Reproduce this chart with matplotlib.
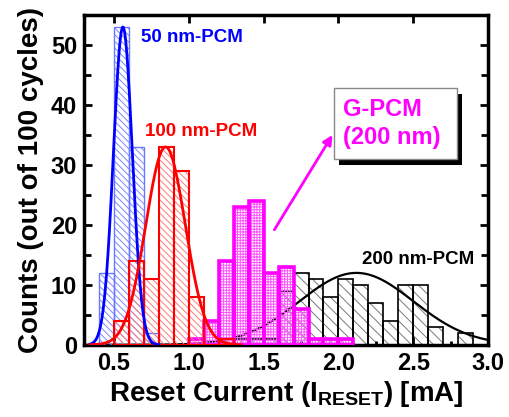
import numpy as np
import matplotlib
matplotlib.use('Agg')
import matplotlib.pyplot as plt
from matplotlib.patches import Rectangle
from matplotlib.transforms import offset_copy

plt.rcParams['font.family'] = ['Liberation Sans', 'DejaVu Sans']
plt.rcParams['font.weight'] = 'bold'
plt.rcParams['axes.labelweight'] = 'bold'
plt.rcParams['mathtext.fontset'] = 'custom'
plt.rcParams['mathtext.rm'] = 'Liberation Sans:bold'
plt.rcParams['mathtext.bf'] = 'Liberation Sans:bold'
plt.rcParams['hatch.linewidth'] = 0.7

# histogram bins are 0.1 mA wide, given by their left edges
bin_w = 0.1
pcm50_left = [0.4, 0.5, 0.6, 0.7]
pcm50_counts = [12, 53, 33, 2]
pcm100_left = [0.5, 0.6, 0.7, 0.8, 0.9, 1.0, 1.1, 1.2]
pcm100_counts = [4, 14, 11, 33, 29, 8, 0, 1]
gpcm_left = [1.0, 1.1, 1.2, 1.3, 1.4, 1.5, 1.6, 1.7, 1.8, 1.9, 2.0]
gpcm_counts = [1, 4, 14, 23, 24, 12, 13, 6, 1, 1, 1]
pcm200_left = [1.3, 1.4, 1.5, 1.6, 1.7, 1.8, 1.9, 2.0, 2.1, 2.2, 2.3, 2.4, 2.5, 2.6, 2.7, 2.8]
pcm200_counts = [1, 1, 1, 9, 12, 11, 8, 11, 10, 7, 4, 10, 10, 3, 0, 2]

# gaussian fits: (amplitude, centre, sigma)
fit50 = (53, 0.56, 0.063)
fit100 = (33, 0.845, 0.132)
fit200 = (12, 2.12, 0.38)


def gauss(x, p):
    a, mu, s = p
    return a * np.exp(-(x - mu) ** 2 / (2 * s ** 2))


def hist_bars(ax, left, counts, hatch, hatch_col, edge_col, lw, z):
    ax.bar(left, counts, width=bin_w, align='edge', fill=False, hatch=hatch,
           edgecolor=hatch_col, linewidth=0, zorder=z)
    ax.bar(left, counts, width=bin_w, align='edge', fill=False,
           edgecolor=edge_col, linewidth=lw, zorder=z + 0.1)


fig = plt.figure(figsize=(5.09, 4.17), dpi=100)
ax = fig.add_axes([0.165, 0.173, 0.794, 0.791])

hist_bars(ax, pcm200_left, pcm200_counts, '\\\\\\', '#7a7a7a', 'black', 1.2, 1)
x = np.linspace(0.3, 3.0, 400)
ax.plot(x, gauss(x, fit200), color='black', lw=1.6, zorder=2)

hist_bars(ax, gpcm_left, gpcm_counts, '++++++', '#ff55ff', '#ff00ff', 2.6, 3)
hist_bars(ax, pcm50_left, pcm50_counts, '\\\\\\\\\\', '#7b88ff', '#6a78ff', 1.0, 4)
hist_bars(ax, pcm100_left, pcm100_counts, '\\\\\\\\\\', '#ff7a7a', '#ff0000', 1.5, 5)

x50 = np.linspace(0.34, 0.8, 200)
ax.plot(x50, gauss(x50, fit50), color='#0000ff', lw=2, zorder=6)
x100 = np.linspace(0.34, 1.35, 200)
ax.plot(x100, gauss(x100, fit100), color='#ff0000', lw=2, zorder=7)

ax.text(0.68, 51.3, '50 nm-PCM', color='#0000ff', fontsize=13.5, va='center')
ax.text(0.71, 35.5, '100 nm-PCM', color='#ff0000', fontsize=13.5, va='center')
ax.text(2.16, 14.3, '200 nm-PCM', color='black', fontsize=13.5, va='center')

# G-PCM label box with drop shadow
box = (1.968, 31.0, 0.822, 11.8)
shadow_tr = offset_copy(ax.transData, fig=fig, x=4, y=-4, units='points')
ax.add_patch(Rectangle(box[:2], box[2], box[3], facecolor='black',
                       edgecolor='none', transform=shadow_tr, zorder=8))
ax.add_patch(Rectangle(box[:2], box[2], box[3], facecolor='white',
                       edgecolor='#888888', lw=1, zorder=9))
ax.text(2.03, 36.9, 'G-PCM\n(200 nm)', color='#ff00ff', fontsize=17,
        va='center', ha='left', linespacing=1.3, zorder=10)
ax.annotate('', xy=(1.96, 35), xytext=(1.572, 19.2), zorder=10,
            arrowprops=dict(arrowstyle='-|>', color='#ff00ff', lw=2,
                            mutation_scale=14, shrinkA=0, shrinkB=0))

ax.set_xlim(0.3, 3.0)
ax.set_ylim(0, 55)
ax.set_xticks([0.5, 1.0, 1.5, 2.0, 2.5, 3.0])
ax.set_xticks(np.arange(0.5, 3.0, 0.25), minor=True)
ax.set_yticks([0, 10, 20, 30, 40, 50])
ax.set_yticks([5, 15, 25, 35, 45], minor=True)
ax.tick_params(which='both', direction='in', top=True, right=True,
               labelsize=17, width=2, pad=5)
ax.tick_params(which='major', length=6)
ax.tick_params(which='minor', length=5)
ax.tick_params(axis='x', which='minor', length=3, top=False)
for sp in ax.spines.values():
    sp.set_linewidth(2.5)

ax.set_xlabel(r'Reset Current (I$_{\mathrm{RESET}}$) [mA]', fontsize=20, labelpad=3)
ax.set_ylabel('Counts (out of 100 cycles)', fontsize=20, labelpad=5)

fig.savefig('out.png', dpi=100)
